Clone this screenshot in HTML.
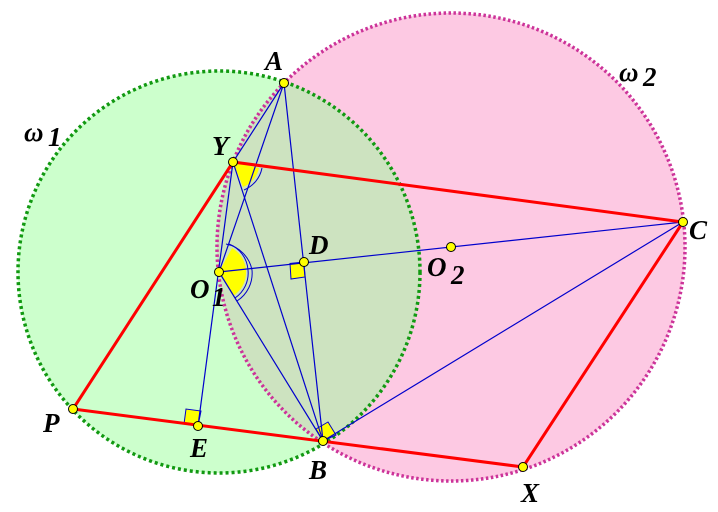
<!DOCTYPE html>
<html><head><style>body{margin:0;background:#fff}svg{display:block}text{font-family:"Liberation Serif",serif;font-weight:bold;font-style:italic;font-size:27px}</style></head>
<body>
<svg width="718" height="512" viewBox="0 0 718 512">
<defs><clipPath id="c2"><circle cx="451" cy="247" r="234"/></clipPath></defs>
<circle cx="451" cy="247" r="234" fill="#fdc9e3"/>
<circle cx="219" cy="272" r="201" fill="#ccffcc"/>
<circle cx="219" cy="272" r="201" fill="#cde3c0" clip-path="url(#c2)"/>
<circle cx="451" cy="247" r="234" fill="none" stroke="#cc3399" stroke-width="3.5" stroke-dasharray="2.5,2.5"/>
<circle cx="219" cy="272" r="201" fill="none" stroke="#119911" stroke-width="3.5" stroke-dasharray="3,3"/>
<path d="M233,162 L259,168 A26,26 0 0 1 243,187 Z" fill="#ffff00"/>
<path d="M262,168 A30,30 0 0 1 244,190" fill="none" stroke="#00c" stroke-width="1"/>
<path d="M219,272 L232,248 A28,28 0 0 1 233,296 Z" fill="#ffff00"/>
<path d="M229,244 A30,30 0 0 1 248,270 A30,30 0 0 1 235,298" fill="none" stroke="#00c"/>
<path d="M226,244 A33,33 0 0 1 252,270 A33,33 0 0 1 237,301" fill="none" stroke="#00c"/>
<polygon points="304,262 290,263.5 291,279 305,277" fill="#ffff00" stroke="#00c"/>
<polygon points="198,426 184,424 186,409 201,411" fill="#ffff00" stroke="#00c"/>
<polygon points="323,441 316,429 328,422 336,435" fill="#ffff00" stroke="#00c"/>
<g stroke="#00c" stroke-width="1.2" fill="none">
<line x1="284" y1="83" x2="233" y2="162"/>
<line x1="284" y1="83" x2="219" y2="272"/>
<line x1="284" y1="83" x2="323" y2="441"/>
<line x1="233" y1="162" x2="198" y2="426"/>
<line x1="233" y1="162" x2="323" y2="441"/>
<line x1="219" y1="272" x2="323" y2="441"/>
<line x1="219" y1="272" x2="683" y2="222"/>
<line x1="323" y1="441" x2="683" y2="222"/>
</g>
<g stroke="#ff0000" stroke-width="3" fill="none">
<polyline points="73,409 233,162 683,222 523,467 73,409"/>
</g>
<g fill="#ffff00" stroke="#000" stroke-width="1">
<circle cx="284" cy="83" r="4.5"/><circle cx="233" cy="162" r="4.5"/><circle cx="683" cy="222" r="4.5"/>
<circle cx="304" cy="262" r="4.5"/><circle cx="451" cy="247" r="4.5"/><circle cx="219" cy="272" r="4.5"/>
<circle cx="73" cy="409" r="4.5"/><circle cx="198" cy="426" r="4.5"/><circle cx="323" cy="441" r="4.5"/><circle cx="523" cy="467" r="4.5"/>
</g>
<text x="265" y="70">A</text>
<text x="212" y="155">Y</text>
<text x="689" y="239">C</text>
<text x="309" y="254">D</text>
<text x="427" y="276">O</text><text x="451" y="284" font-size="20">2</text>
<text x="190" y="298">O</text><text x="212" y="306" font-size="20">1</text>
<text x="43" y="432">P</text>
<text x="190" y="457">E</text>
<text x="309" y="479">B</text>
<text x="521" y="502">X</text>
<text x="24" y="141">ω</text><text x="48" y="146" font-size="20">1</text>
<text x="619" y="81">ω</text><text x="643" y="86" font-size="20">2</text>
</svg>
</body></html>
